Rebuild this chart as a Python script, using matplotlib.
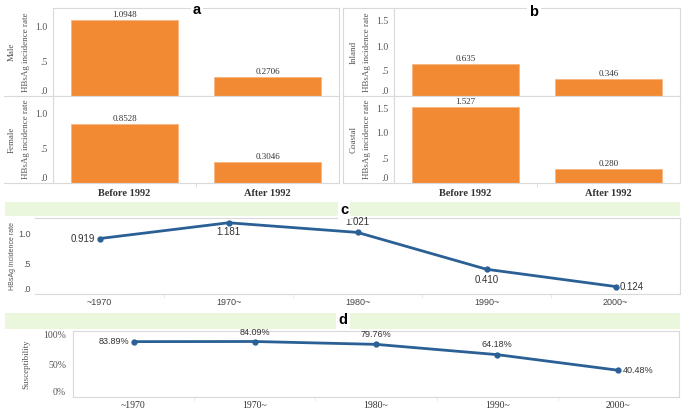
import matplotlib
matplotlib.use("Agg")
import matplotlib.pyplot as plt
from matplotlib.patches import Rectangle
from matplotlib.lines import Line2D
from matplotlib.ticker import FixedLocator

W, H = 685, 409
fig = plt.figure(figsize=(W / 100, H / 100), dpi=100)
fig.patch.set_facecolor("white")

# ---------------- data ----------------
periods = ["Before 1992", "After 1992"]
male = [1.0948, 0.2706]
female = [0.8528, 0.3046]
male_lbl = ["1.0948", "0.2706"]
female_lbl = ["0.8528", "0.3046"]
inland = [0.635, 0.346]
coastal = [1.527, 0.280]
inland_lbl = ["0.635", "0.346"]
coastal_lbl = ["1.527", "0.280"]

decades = ["~1970", "1970~", "1980~", "1990~", "2000~"]
incidence = [0.919, 1.181, 1.021, 0.410, 0.124]
incidence_lbl = ["0.919", "1.181", "1.021", "0.410", "0.124"]
suscept = [0.8389, 0.8409, 0.7976, 0.6418, 0.4048]
suscept_lbl = ["83.89%", "84.09%", "79.76%", "64.18%", "40.48%"]

ORANGE = "#F28A33"
BLUE = "#2A6095"
GRID = "#d9d9d9"
GREEN = "#eaf7dd"
SERIF = "Liberation Serif"
SANS = "Liberation Sans"


def rect(x0, y0, x1, y1):
    return [x0 / W, 1 - y1 / H, (x1 - x0) / W, (y1 - y0) / H]


def fig_line(x0, y0, x1, y1, color=GRID, lw=0.8):
    fig.add_artist(Line2D([x0 / W, x1 / W], [1 - y0 / H, 1 - y1 / H],
                          transform=fig.transFigure, color=color, lw=lw))


def style_spines(ax):
    for s in ax.spines.values():
        s.set_color(GRID)
        s.set_linewidth(0.8)


def bar_panel(ax, vals, lbls, ylabel, ymax, yticks, yticklbls, show_x):
    x = list(range(len(periods)))
    ax.bar(x, vals, width=0.75, color=ORANGE, edgecolor="#f7b27a", linewidth=0.5)
    ax.set_xlim(-0.5, 1.5)
    ax.set_ylim(0, ymax)
    ax.set_yticks(yticks)
    ax.set_yticklabels(yticklbls, fontfamily=SERIF, fontsize=7, color="#555555")
    tl = ax.get_yticklabels()
    tl[0].set_va("bottom")
    ax.tick_params(axis="y", length=0, pad=4)
    ax.set_xticks(x)
    if show_x:
        ax.set_xticklabels(periods, fontfamily=SERIF, fontsize=7.5,
                           fontweight="bold", color="#333333")
    else:
        ax.set_xticklabels([])
    ax.tick_params(axis="x", length=0, pad=4)
    ax.xaxis.set_minor_locator(FixedLocator([0.5]))
    ax.tick_params(axis="x", which="minor", length=3 if show_x else 0, color=GRID)
    for xi, v, t in zip(x, vals, lbls):
        ax.text(xi, v + ymax * 0.01, t, ha="center", va="bottom",
                fontfamily=SERIF, fontsize=6.5, color="#333333")
    ax.set_ylabel(ylabel, fontfamily=SERIF, fontsize=6.5, color="#555555",
                  linespacing=1.9, labelpad=4)
    style_spines(ax)


def panel_tag(x, y, s):
    fig.text(x / W, 1 - y / H, s, ha="center", va="center", fontfamily=SANS,
             fontweight="bold", fontsize=10.5, color="black",
             bbox=dict(boxstyle="square,pad=0.15", fc="white", ec="none"))


# ---------------- panel a ----------------
axa1 = fig.add_axes(rect(53, 8, 339, 96))
bar_panel(axa1, male, male_lbl, "Male\nHBsAg incidence rate", 1.27,
          [0, 0.5, 1.0], [".0", ".5", "1.0"], False)
axa2 = fig.add_axes(rect(53, 96, 339, 183))
bar_panel(axa2, female, female_lbl, "Female\nHBsAg incidence rate", 1.26,
          [0, 0.5, 1.0], [".0", ".5", "1.0"], True)
fig_line(4, 96, 53, 96)
fig_line(4, 183, 53, 183)
panel_tag(197, 10, "a")

# ---------------- panel b ----------------
axb1 = fig.add_axes(rect(394, 8, 680, 96))
bar_panel(axb1, inland, inland_lbl, "Inland\nHBsAg incidence rate", 1.76,
          [0, 0.5, 1.0, 1.5], [".0", ".5", "1.0", "1.5"], False)
axb2 = fig.add_axes(rect(394, 96, 680, 183))
bar_panel(axb2, coastal, coastal_lbl, "Coastal\nHBsAg incidence rate", 1.74,
          [0, 0.5, 1.0, 1.5], [".0", ".5", "1.0", "1.5"], True)
fig_line(343, 8, 343, 183)
fig_line(343, 8, 394, 8)
fig_line(343, 96, 394, 96)
fig_line(343, 183, 394, 183)
panel_tag(534, 12, "b")

# ---------------- panel c ----------------
fig.add_artist(Rectangle((5 / W, 1 - 216 / H), 675 / W, 14 / H,
                         transform=fig.transFigure, fc=GREEN, ec="none"))
axc = fig.add_axes(rect(35, 218, 680, 294))
xc = list(range(len(decades)))
axc.plot(xc, incidence, color=BLUE, lw=2.0, marker="o", ms=3.5,
         markerfacecolor=BLUE, markeredgecolor=BLUE, solid_capstyle="round")
axc.set_xlim(-0.5, 4.5)
axc.set_ylim(0, 1.26)
axc.set_yticks([0, 0.5, 1.0])
axc.set_yticklabels([".0", ".5", "1.0"], fontfamily=SANS, fontsize=6.5, color="#555555")
axc.get_yticklabels()[0].set_va("bottom")
axc.tick_params(axis="y", length=0, pad=3)
axc.set_xticks(xc)
axc.set_xticklabels(decades, fontfamily=SANS, fontsize=6.5, color="#444444")
axc.tick_params(axis="x", length=0, pad=3)
axc.xaxis.set_minor_locator(FixedLocator([0.5, 1.5, 2.5, 3.5]))
axc.tick_params(axis="x", which="minor", length=3, color="#e6e6e6")
axc.set_ylabel("HBsAg incidence rate", fontfamily=SANS, fontsize=5, color="#555555",
               labelpad=1.5)
style_spines(axc)
axc.spines["left"].set_visible(False)
offs_c = [(-3, 0, "right", "center"), (0, -3, "center", "top"), (0, 4, "center", "bottom"),
          (0, -4, "center", "top"), (3, 0, "left", "center")]
for xi, v, t, (dx, dy, ha, va) in zip(xc, incidence, incidence_lbl, offs_c):
    axc.annotate(t, (xi, v), xytext=(dx, dy), textcoords="offset points",
                 ha=ha, va=va, fontfamily=SANS, fontsize=7, color="#333333")
panel_tag(344, 210, "c")

# ---------------- panel d ----------------
fig.add_artist(Rectangle((5 / W, 1 - 329 / H), 675 / W, 16 / H,
                         transform=fig.transFigure, fc=GREEN, ec="none"))
axd = fig.add_axes(rect(73, 331, 679, 397))
axd.plot(xc, suscept, color=BLUE, lw=2.0, marker="o", ms=3.5,
         markerfacecolor=BLUE, markeredgecolor=BLUE, solid_capstyle="round")
axd.set_xlim(-0.5, 4.5)
axd.set_ylim(0, 1.0)
axd.set_yticks([0, 0.5, 1.0])
axd.set_yticklabels(["0%", "50%", "100%"], fontfamily=SERIF, fontsize=7, color="#555555")
ytl = axd.get_yticklabels()
ytl[0].set_va("bottom")
ytl[2].set_va("top")
axd.tick_params(axis="y", length=0, pad=5)
axd.set_xticks(xc)
axd.set_xticklabels(decades, fontfamily=SERIF, fontsize=7, color="#333333")
axd.tick_params(axis="x", length=0, pad=3)
axd.xaxis.set_minor_locator(FixedLocator([0.5, 1.5, 2.5, 3.5]))
axd.tick_params(axis="x", which="minor", length=3, color="#e6e6e6")
axd.set_ylabel("Susceptibility", fontfamily=SERIF, fontsize=6.5, color="#555555",
               labelpad=9)
style_spines(axd)
offs_d = [(-3, 0, "right", "center"), (0, 3, "center", "bottom"), (0, 4, "center", "bottom"),
          (0, 4, "center", "bottom"), (3, 0, "left", "center")]
for xi, v, t, (dx, dy, ha, va) in zip(xc, suscept, suscept_lbl, offs_d):
    axd.annotate(t, (xi, v), xytext=(dx, dy), textcoords="offset points",
                 ha=ha, va=va, fontfamily=SANS, fontsize=6.5, color="#333333")
panel_tag(343, 320, "d")

fig.savefig("out.png", dpi=100, facecolor="white")
